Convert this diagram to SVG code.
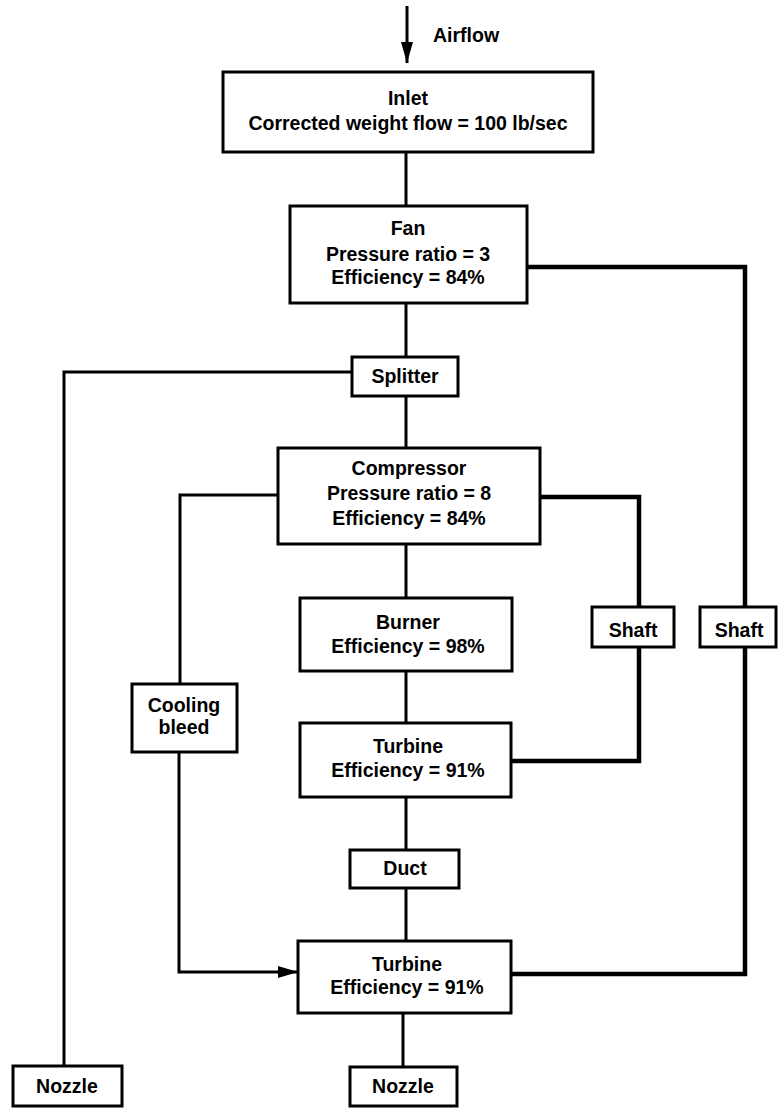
<svg xmlns="http://www.w3.org/2000/svg" width="778" height="1108" viewBox="0 0 778 1108">
<defs>
<style>
.box{fill:#fff;stroke:#000;stroke-width:3}
.t{font-family:"Liberation Sans",Arial,sans-serif;font-weight:bold;font-size:19.5px;fill:#000;text-anchor:middle}
.c{fill:none;stroke:#000;stroke-width:3}
.s{fill:none;stroke:#000;stroke-width:4.5}
</style>
<marker id="ah" viewBox="0 0 20 12" refX="20" refY="6" markerWidth="20" markerHeight="12" markerUnits="userSpaceOnUse" orient="auto">
<path d="M0,0 L20,6 L0,12 Z" fill="#000"/>
</marker>
<marker id="ah2" viewBox="0 0 21 12" refX="21" refY="6" markerWidth="21" markerHeight="12" markerUnits="userSpaceOnUse" orient="auto">
<path d="M0,0 L21,6 L0,12 Z" fill="#000"/>
</marker>
</defs>
<rect width="778" height="1108" fill="#fff"/>
<g id="connectors">
<path class="c" d="M407,6 V63" marker-end="url(#ah2)"/>
<path class="c" d="M406,152 V206"/>
<path class="c" d="M406,303 V357"/>
<path class="c" d="M406,396 V448"/>
<path class="c" d="M406,544 V598"/>
<path class="c" d="M406,671 V723"/>
<path class="c" d="M406,797 V850"/>
<path class="c" d="M406,888 V941"/>
<path class="c" d="M403,1013 V1067"/>
<path class="c" d="M352,372 H64 V1066"/>
<path class="c" d="M278,495 H180 V684"/>
<path class="c" d="M179,752 V972 H298" marker-end="url(#ah)"/>
<path class="s" d="M527,267 H745 V607"/>
<path class="s" d="M745,647 V974 H511"/>
<path class="s" d="M540,497 H639 V607"/>
<path class="s" d="M639,647 V761 H511"/>
</g>
<g id="airflow"><text class="t" x="433" y="42" text-anchor="start" style="text-anchor:start">Airflow</text></g>
<g id="inlet">
<rect class="box" x="223" y="72" width="370" height="80"/>
<text class="t" x="408" y="105">Inlet</text>
<text class="t" x="408" y="130">Corrected weight flow = 100 lb/sec</text>
</g>
<g id="fan">
<rect class="box" x="290" y="206" width="237" height="97"/>
<text class="t" x="408" y="235">Fan</text>
<text class="t" x="408" y="261">Pressure ratio = 3</text>
<text class="t" x="408" y="284">Efficiency = 84%</text>
</g>
<g id="splitter">
<rect class="box" x="352" y="357" width="106" height="39"/>
<text class="t" x="405" y="383">Splitter</text>
</g>
<g id="compressor">
<rect class="box" x="278" y="448" width="262" height="96"/>
<text class="t" x="409" y="475">Compressor</text>
<text class="t" x="409" y="500">Pressure ratio = 8</text>
<text class="t" x="409" y="525">Efficiency = 84%</text>
</g>
<g id="burner">
<rect class="box" x="300" y="598" width="212" height="73"/>
<text class="t" x="408" y="629">Burner</text>
<text class="t" x="408" y="653">Efficiency = 98%</text>
</g>
<g id="shaft1">
<rect class="box" x="592" y="607" width="82" height="40"/>
<text class="t" x="633" y="637">Shaft</text>
</g>
<g id="shaft2">
<rect class="box" x="700" y="607" width="76" height="40"/>
<text class="t" x="739" y="637">Shaft</text>
</g>
<g id="cooling-bleed">
<rect class="box" x="132" y="684" width="105" height="68"/>
<text class="t" x="184" y="712">Cooling</text>
<text class="t" x="184" y="734">bleed</text>
</g>
<g id="turbine1">
<rect class="box" x="300" y="723" width="211" height="74"/>
<text class="t" x="408" y="753">Turbine</text>
<text class="t" x="408" y="777">Efficiency = 91%</text>
</g>
<g id="duct">
<rect class="box" x="350" y="850" width="109" height="38"/>
<text class="t" x="405" y="875">Duct</text>
</g>
<g id="turbine2">
<rect class="box" x="298" y="941" width="213" height="72"/>
<text class="t" x="407" y="971">Turbine</text>
<text class="t" x="407" y="994">Efficiency = 91%</text>
</g>
<g id="nozzle1">
<rect class="box" x="13" y="1066" width="109" height="40"/>
<text class="t" x="67" y="1093">Nozzle</text>
</g>
<g id="nozzle2">
<rect class="box" x="350" y="1067" width="107" height="39"/>
<text class="t" x="403" y="1093">Nozzle</text>
</g>
</svg>
